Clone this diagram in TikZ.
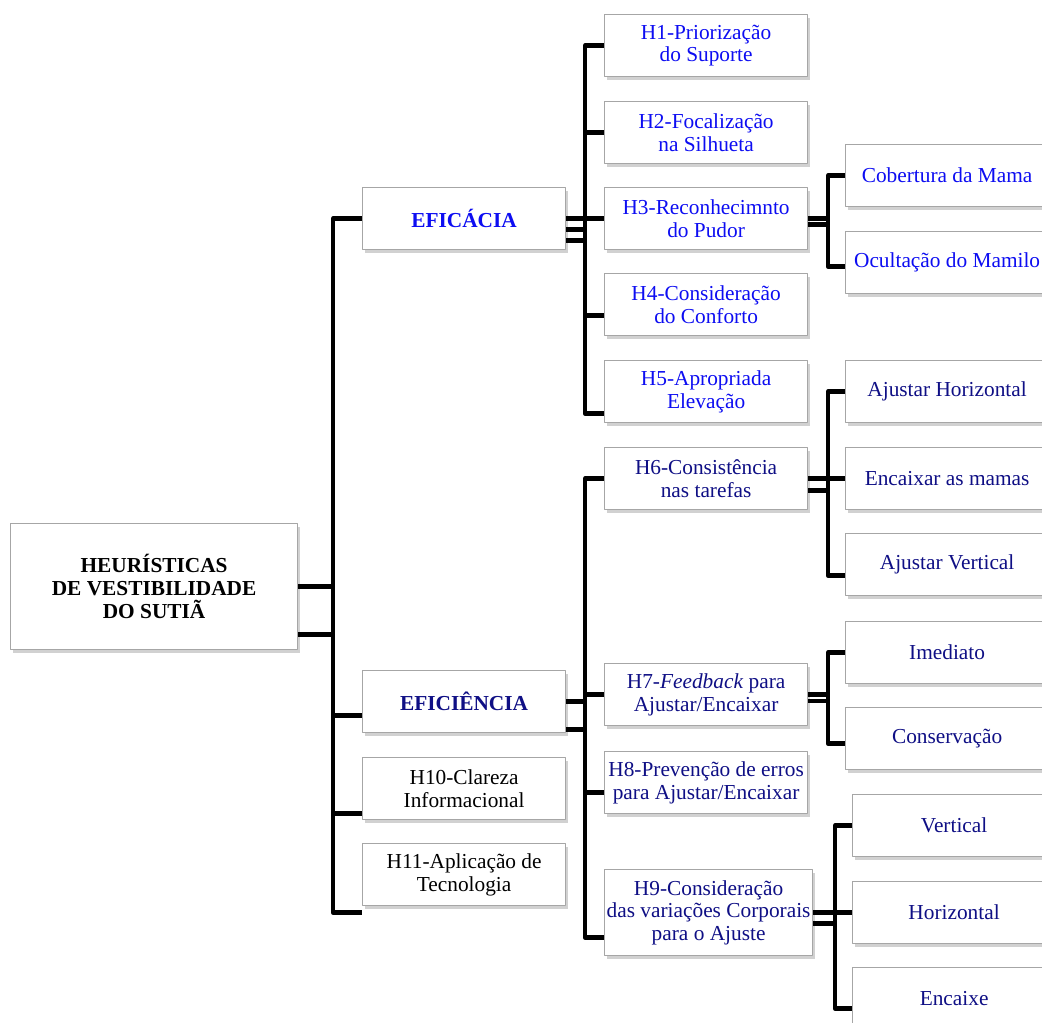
\documentclass[tikz,border=0pt]{standalone}
\usepackage{fontspec}
\setmainfont{Liberation Serif}
\usetikzlibrary{shadows}
\definecolor{qqqqff}{rgb}{0.05,0.05,0.95}
\definecolor{qqqqzz}{rgb}{0.06,0.06,0.52}

\begin{document}
\begin{tikzpicture}[line join=round,x=0.75pt,y=-0.75pt,font=\fontsize{16}{17}\selectfont,
  box/.style={draw=gray!70,line width=0.9pt,fill=white,anchor=north west,align=center,inner sep=1pt,minimum width=152.25pt,minimum height=46.5pt,drop shadow={shadow xshift=1.5pt,shadow yshift=-2.3pt,opacity=0.3,fill=black!60}},
  head/.style={font=\fontsize{16}{17}\selectfont\bfseries},
  conn/.style={line width=3.2pt}]
\useasboundingbox (0,0) rectangle (1042,1023);
\clip(0,0) rectangle (1042,1023);
\node[box,head,minimum width=215.25pt,minimum height=94.5pt] (root) at (10,523) {HEURÍSTICAS\\DE VESTIBILIDADE\\DO SUTIÃ};
\node[box,head,text=qqqqff] (eficacia) at (362,187) {EFICÁCIA};
\node[box,head,text=qqqqzz] (eficiencia) at (362,670) {EFICIÊNCIA};
\node[box] (h10) at (362,757) {H10-Clareza\\Informacional};
\node[box] (h11) at (362,843) {H11-Aplicação de\\Tecnologia};
\node[box,text=qqqqff] (h1) at (604,14) {H1-Priorização\\do Suporte};
\node[box,text=qqqqff] (h2) at (604,101) {H2-Focalização\\na Silhueta};
\node[box,text=qqqqff] (h3) at (604,187) {H3-Reconhecimnto\\do Pudor};
\node[box,text=qqqqff] (h4) at (604,273) {H4-Consideração\\do Conforto};
\node[box,text=qqqqff] (h5) at (604,360) {H5-Apropriada\\Elevação};
\node[box,text=qqqqff] (cobertura) at (845,144) {Cobertura da Mama};
\node[box,text=qqqqff] (ocultacao) at (845,231) {Ocultação do Mamilo};
\node[box,text=qqqqzz] (h6) at (604,447) {H6-Consistência\\nas tarefas};
\node[box,text=qqqqzz] (h7) at (604,663) {H7-\textit{Feedback} para\\Ajustar/Encaixar};
\node[box,text=qqqqzz] (h8) at (604,751) {H8-Prevenção de erros\\para Ajustar/Encaixar};
\node[box,text=qqqqzz,minimum width=156pt,minimum height=64.5pt] (h9) at (604,869) {H9-Consideração\\das variações Corporais\\para o Ajuste};
\node[box,text=qqqqzz] (ajhor) at (845,360) {Ajustar Horizontal};
\node[box,text=qqqqzz] (encmamas) at (845,447) {Encaixar as mamas};
\node[box,text=qqqqzz] (ajver) at (845,533) {Ajustar Vertical};
\node[box,text=qqqqzz] (imediato) at (845,621) {Imediato};
\node[box,text=qqqqzz] (conservacao) at (845,707) {Conservação};
\node[box,text=qqqqzz] (vertical) at (852,794) {Vertical};
\node[box,text=qqqqzz] (horizontal) at (852,881) {Horizontal};
\node[box,text=qqqqzz] (encaixe) at (852,967) {Encaixe};
\coordinate (tA) at (333,0);
\coordinate (tB) at (585,0);
\coordinate (tC) at (828,0);
\coordinate (tD) at (835,0);
\path ([yshift=-36pt]root.east) coordinate (rootb)
      ([yshift=-10.5pt]eficiencia.west) coordinate (eficienciai)
      ([yshift=-18.75pt]h10.west) coordinate (h10i)
      ([yshift=-28.5pt]h11.west) coordinate (h11i)
      ([yshift=-8.25pt]eficacia.east) coordinate (eficaciab)
      ([yshift=-16.5pt]eficacia.east) coordinate (eficaciac)
      ([yshift=-8.25pt]h4.west) coordinate (h4i)
      ([yshift=-16.5pt]h5.west) coordinate (h5i)
      ([yshift=-4.5pt]h3.east) coordinate (h3b)
      ([yshift=-3pt]ocultacao.west) coordinate (ocultacaoi)
      ([yshift=-21pt]eficiencia.east) coordinate (eficienciab)
      ([yshift=-7.5pt]h8.west) coordinate (h8i)
      ([yshift=-18.75pt]h9.west) coordinate (h9i)
      ([yshift=-9pt]h6.east) coordinate (h6b)
      ([yshift=-8.25pt]ajver.west) coordinate (ajveri)
      ([yshift=-5pt]h7.east) coordinate (h7b)
      ([yshift=-3.75pt]conservacao.west) coordinate (conservacaoi)
      ([yshift=-8.25pt]h9.east) coordinate (h9b)
      ([yshift=-7.5pt]encaixe.west) coordinate (encaixei);
\draw[conn] (eficacia.west) -- (tA |- eficacia.west) -- (tA |- h11i) -- (h11i);
\draw[conn] (root.east) -- (tA |- root.east);
\draw[conn] (rootb) -- (tA |- rootb);
\draw[conn] (eficienciai) -- (tA |- eficienciai);
\draw[conn] (h10i) -- (tA |- h10i);
\draw[conn] (h1.west) -- (tB |- h1.west) -- (tB |- h5i) -- (h5i);
\draw[conn] (h2.west) -- (tB |- h2.west);
\draw[conn] (eficacia.east) -- (h3.west);
\draw[conn] (eficaciab) -- (tB |- eficaciab);
\draw[conn] (eficaciac) -- (tB |- eficaciac);
\draw[conn] (h4i) -- (tB |- h4i);
\draw[conn] (cobertura.west) -- (tC |- cobertura.west) -- (tC |- ocultacaoi) -- (ocultacaoi);
\draw[conn] (h3.east) -- (tC |- h3.east);
\draw[conn] (h3b) -- (tC |- h3b);
\draw[conn] (h6.west) -- (tB |- h6.west) -- (tB |- h9i) -- (h9i);
\draw[conn] (eficiencia.east) -- (tB |- eficiencia.east);
\draw[conn] (eficienciab) -- (tB |- eficienciab);
\draw[conn] (h7.west) -- (tB |- h7.west);
\draw[conn] (h8i) -- (tB |- h8i);
\draw[conn] (ajhor.west) -- (tC |- ajhor.west) -- (tC |- ajveri) -- (ajveri);
\draw[conn] (h6.east) -- (encmamas.west);
\draw[conn] (h6b) -- (tC |- h6b);
\draw[conn] (imediato.west) -- (tC |- imediato.west) -- (tC |- conservacaoi) -- (conservacaoi);
\draw[conn] (h7.east) -- (tC |- h7.east);
\draw[conn] (h7b) -- (tC |- h7b);
\draw[conn] (vertical.west) -- (tD |- vertical.west) -- (tD |- encaixei) -- (encaixei);
\draw[conn] (h9.east) -- (horizontal.west);
\draw[conn] (h9b) -- (tD |- h9b);
\end{tikzpicture}
\end{document}
